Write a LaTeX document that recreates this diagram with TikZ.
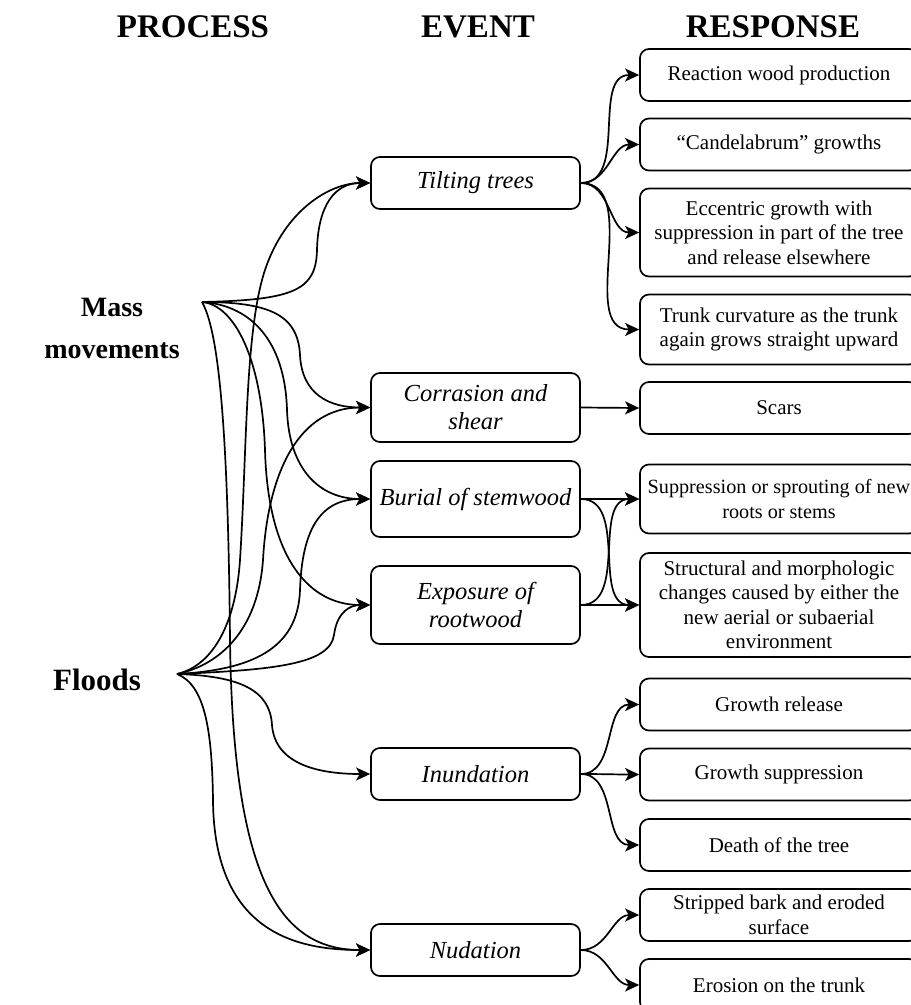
\documentclass[tikz,border=0pt]{standalone}
\usepackage{fontspec}
\setmainfont{Liberation Serif}
\usetikzlibrary{arrows.meta}
\begin{document}
\begin{tikzpicture}[x=1pt,y=-1pt,line width=1.7pt,
  evbox/.style={draw, rounded corners=9pt, minimum width=209pt, align=center, inner sep=0pt, font=\fontsize{24.5}{28}\selectfont\itshape},
  rbox/.style={draw, rounded corners=9pt, minimum width=278pt, align=center, inner sep=0pt, font=\fontsize{21}{24.5}\selectfont},
  hdr/.style={font=\fontsize{33}{36}\selectfont\bfseries},
  proc/.style={font=\fontsize{28}{42}\selectfont\bfseries, align=center},
  arr/.style={-{Stealth[length=14pt,width=13pt,inset=3.5pt]}},
  fan/.style={arr, out=0, in=180}]
\useasboundingbox (0,0) rectangle (911,1005);

% headers
\node[hdr] (hproc) at (193,27) {PROCESS};
\node[hdr] (hev) at (478,27) {EVENT};
\node[hdr] (hresp) at (773,27) {RESPONSE};

% process labels
\node[proc] (mass) at (112,328) {Mass\\movements};
\node[proc, font=\fontsize{31}{36}\selectfont\bfseries] (flood) at (97,680) {Floods};
\coordinate (M) at (202,302);
\coordinate (F) at (177,674);

% events
\node[evbox, minimum height=52pt] (tilt) at (475.5,183) {Tilting trees};
\node[evbox, minimum height=69pt] (corr) at (475.5,407.5) {Corrasion and\\shear};
\node[evbox, minimum height=76pt] (bur) at (475.5,499) {Burial of stemwood};
\node[evbox, minimum height=78pt] (expo) at (475.5,605) {Exposure of\\rootwood};
\node[evbox, minimum height=52pt] (inun) at (475.5,774) {Inundation};
\node[evbox, minimum height=52pt] (nud) at (475.5,950) {Nudation};

% responses
\node[rbox, minimum height=52pt] (react) at (779,75) {Reaction wood production};
\node[rbox, minimum height=52pt] (cand) at (779,144.5) {“Candelabrum” growths};
\node[rbox, minimum height=88pt] (ecc) at (779,232.5) {Eccentric growth with\\suppression in part of the tree\\and release elsewhere};
\node[rbox, minimum height=70pt] (trunk) at (779,329.5) {Trunk curvature as the trunk\\again grows straight upward};
\node[rbox, minimum height=52pt] (scars) at (779,408) {Scars};
\node[rbox, minimum height=69pt, font=\fontsize{20.2}{24.5}\selectfont] (supp) at (779,499) {Suppression or sprouting of new\\roots or stems};
\node[rbox, minimum height=104pt] (struct) at (779,605) {Structural and morphologic\\changes caused by either the\\new aerial or subaerial\\environment};
\node[rbox, minimum height=52pt] (grel) at (779,704.5) {Growth release};
\node[rbox, minimum height=52pt] (gsup) at (779,774.5) {Growth suppression};
\node[rbox, minimum height=52pt] (death) at (779,845) {Death of the tree};
\node[rbox, minimum height=52pt] (strip) at (779,915) {Stripped bark and eroded\\surface};
\node[rbox, minimum height=52pt] (eros) at (779,985) {Erosion on the trunk};

% mass movements connectors
\draw[arr] (M) .. controls (295,300) and (316,290) .. (317,250) .. controls (318,205) and (335,183) .. (tilt.west);
\draw[arr] (M) .. controls (270,302) and (298,315) .. (300,355) .. controls (302,395) and (330,407.5) .. (corr.west);
\draw[arr] (M) .. controls (250,305) and (285,340) .. (287,410) .. controls (289,470) and (320,499) .. (bur.west);
\draw[arr] (M) .. controls (235,305) and (262,360) .. (265,450) .. controls (268,560) and (310,605) .. (expo.west);
\draw[arr] (M) .. controls (218,330) and (228,420) .. (230,640) .. controls (233,880) and (280,950) .. (nud.west);

% floods connectors
\draw[arr] (F) .. controls (215,665) and (236,620) .. (240,560) .. controls (247,450) and (245,330) .. (265,270) .. controls (285,210) and (330,183) .. (tilt.west);
\draw[arr] (F) .. controls (220,665) and (258,630) .. (263,560) .. controls (268,470) and (300,407.5) .. (corr.west);
\draw[arr] (F) .. controls (250,670) and (298,650) .. (300,590) .. controls (302,530) and (320,499) .. (bur.west);
\draw[arr] (F) .. controls (270,670) and (330,665) .. (334,635) .. controls (337,612) and (350,605) .. (expo.west);
\draw[arr] (F) .. controls (240,676) and (270,690) .. (272,725) .. controls (275,765) and (320,774) .. (inun.west);
\draw[arr] (F) .. controls (205,685) and (212,730) .. (213,800) .. controls (214,935) and (300,950) .. (nud.west);

% event to response connectors
\draw[fan] (tilt.east) to (react.west);
\draw[fan] (tilt.east) to (cand.west);
\draw[fan] (tilt.east) to (ecc.west);
\draw[fan] (tilt.east) to (trunk.west);
\draw[arr] (corr.east) -- (scars.west);
\draw[fan] (bur.east) to (supp.west);
\draw[fan] (bur.east) to (struct.west);
\draw[fan] (expo.east) to (supp.west);
\draw[fan] (expo.east) to (struct.west);
\draw[fan] (inun.east) to (grel.west);
\draw[fan] (inun.east) to (gsup.west);
\draw[fan] (inun.east) to (death.west);
\draw[fan] (nud.east) to (strip.west);
\draw[fan] (nud.east) to (eros.west);
\end{tikzpicture}
\end{document}
